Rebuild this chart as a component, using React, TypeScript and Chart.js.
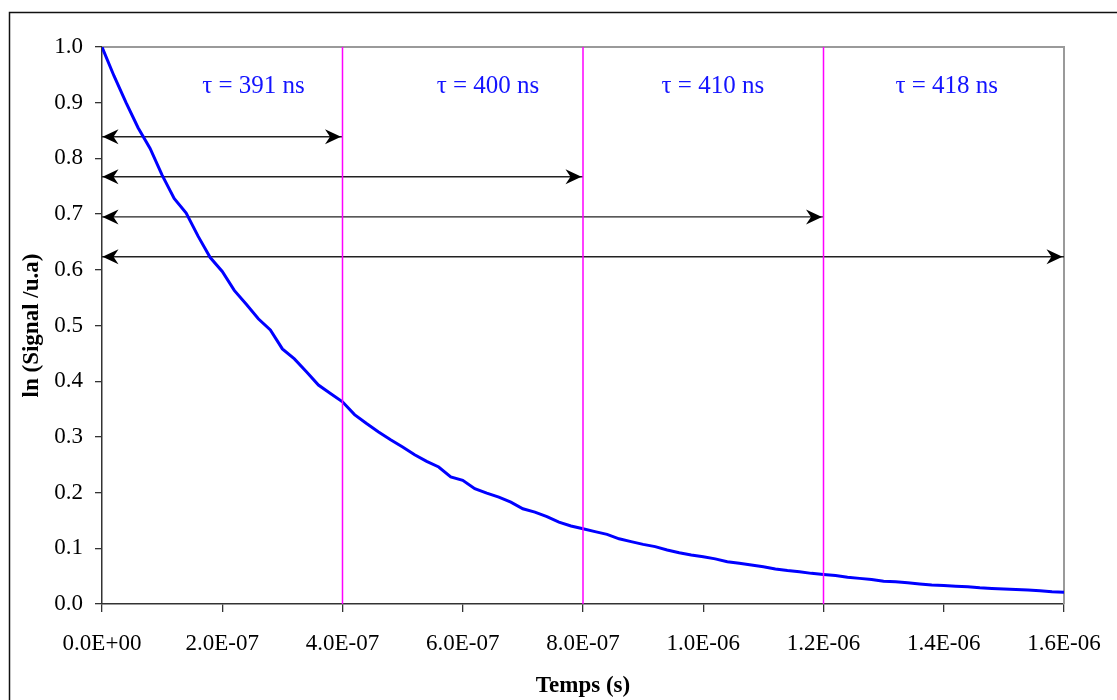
import React, { useEffect, useRef } from "react";
import { Chart, registerables } from "chart.js";

Chart.register(...registerables);

// ---- Data ----
const TIME_NS = [
  0, 20, 40, 60, 80, 100, 120, 140, 160, 180,
  200, 220, 240, 260, 280, 300, 320, 340, 360, 380,
  400, 420, 440, 460, 480, 500, 520, 540, 560, 580,
  600, 620, 640, 660, 680, 700, 720, 740, 760, 780,
  800, 820, 840, 860, 880, 900, 920, 940, 960, 980,
  1000, 1020, 1040, 1060, 1080, 1100, 1120, 1140, 1160, 1180,
  1200, 1220, 1240, 1260, 1280, 1300, 1320, 1340, 1360, 1380,
  1400, 1420, 1440, 1460, 1480, 1500, 1520, 1540, 1560, 1580,
  1600,
];

const SIGNAL = [
  1.0, 0.948, 0.9, 0.855, 0.818, 0.77, 0.728, 0.702, 0.66, 0.622,
  0.597, 0.563, 0.538, 0.512, 0.492, 0.458, 0.44, 0.417, 0.393, 0.378,
  0.363, 0.34, 0.324, 0.309, 0.295, 0.282, 0.268, 0.256, 0.246, 0.228,
  0.222, 0.207, 0.199, 0.192, 0.183, 0.171, 0.165, 0.157, 0.147, 0.14,
  0.135, 0.13, 0.125, 0.117, 0.112, 0.107, 0.103, 0.097, 0.092, 0.088,
  0.085, 0.081, 0.076, 0.073, 0.07, 0.067, 0.063, 0.06, 0.058, 0.055,
  0.053, 0.051, 0.048, 0.046, 0.044, 0.041, 0.04, 0.038, 0.036, 0.034,
  0.033, 0.032, 0.031, 0.029, 0.028, 0.027, 0.026, 0.025, 0.024, 0.022,
  0.021,
];

const X_TICK_VALUES = [0, 2e-7, 4e-7, 6e-7, 8e-7, 1e-6, 1.2e-6, 1.4e-6, 1.6e-6];
const X_TICK_LABELS = [
  "0.0E+00", "2.0E-07", "4.0E-07", "6.0E-07", "8.0E-07",
  "1.0E-06", "1.2E-06", "1.4E-06", "1.6E-06",
];
const Y_TICK_VALUES = [0, 0.1, 0.2, 0.3, 0.4, 0.5, 0.6, 0.7, 0.8, 0.9, 1.0];
const Y_TICK_LABELS = ["0.0", "0.1", "0.2", "0.3", "0.4", "0.5", "0.6", "0.7", "0.8", "0.9", "1.0"];

// fit windows: each arrow goes from 0 to the window end
const FIT_END_S = [4e-7, 8e-7, 1.2e-6, 1.6e-6];
const ARROW_LEVELS = [0.839, 0.767, 0.695, 0.6235];
const SEPARATOR_S = [4e-7, 8e-7, 1.2e-6];
const TAU_LABELS = ["τ = 391 ns", "τ = 400 ns", "τ = 410 ns", "τ = 418 ns"];
const TAU_LABEL_X_S = [2.52e-7, 6.42e-7, 1.016e-6, 1.405e-6];
const TAU_LABEL_Y = 0.929;

const X_TITLE = "Temps (s)";
const Y_TITLE = "ln (Signal /u.a)";

const SERIF = "'Liberation Serif', 'Times New Roman', Times, serif";

const decorPlugin = {
  id: "decor",
  beforeDraw(chart: any) {
    const { ctx, width, height } = chart;
    ctx.save();
    ctx.fillStyle = "#ffffff";
    ctx.fillRect(0, 0, width, height);
    ctx.strokeStyle = "#111111";
    ctx.lineWidth = 1.5;
    ctx.beginPath();
    ctx.moveTo(9.5, height + 5);
    ctx.lineTo(9.5, 12.5);
    ctx.lineTo(width + 5, 12.5);
    ctx.stroke();
    ctx.restore();
  },
  beforeDatasetsDraw(chart: any) {
    const { ctx, chartArea } = chart;
    ctx.save();
    ctx.strokeStyle = "#9a9a9a";
    ctx.lineWidth = 2;
    ctx.beginPath();
    ctx.moveTo(chartArea.left, chartArea.top);
    ctx.lineTo(chartArea.right, chartArea.top);
    ctx.lineTo(chartArea.right, chartArea.bottom);
    ctx.stroke();
    ctx.restore();
  },
  afterDatasetsDraw(chart: any) {
    const { ctx } = chart;
    const xs = chart.scales.x;
    const ys = chart.scales.y;
    ctx.save();
    ctx.fillStyle = "#000000";
    const head = (x: number, y: number, dir: number) => {
      ctx.beginPath();
      ctx.moveTo(x, y);
      ctx.lineTo(x - dir * 16, y - 7.5);
      ctx.lineTo(x - dir * 11, y);
      ctx.lineTo(x - dir * 16, y + 7.5);
      ctx.closePath();
      ctx.fill();
    };
    ARROW_LEVELS.forEach((lvl, i) => {
      const y = ys.getPixelForValue(lvl);
      head(xs.getPixelForValue(0) + 0.5, y, -1);
      head(xs.getPixelForValue(FIT_END_S[i]) - 1.5, y, 1);
    });
    ctx.fillStyle = "#1414ff";
    ctx.font = `25px ${SERIF}`;
    ctx.textAlign = "center";
    ctx.textBaseline = "middle";
    TAU_LABELS.forEach((t, i) => {
      ctx.fillText(t, xs.getPixelForValue(TAU_LABEL_X_S[i]), ys.getPixelForValue(TAU_LABEL_Y));
    });
    ctx.restore();
  },
};

export default function App() {
  const canvasRef = useRef<HTMLCanvasElement | null>(null);

  useEffect(() => {
    const canvas = canvasRef.current;
    if (!canvas) return;

    const curve = TIME_NS.map((t, i) => ({ x: t * 1e-9, y: SIGNAL[i] }));

    const separatorSets = SEPARATOR_S.map((s) => ({
      label: "sep",
      data: [
        { x: s, y: 0 },
        { x: s, y: 1 },
      ],
      borderColor: "#ff00ff",
      borderWidth: 1.5,
      pointRadius: 0,
      fill: false,
    }));

    const arrowSets = ARROW_LEVELS.map((lvl, i) => ({
      label: "arrow",
      data: [
        { x: 0, y: lvl },
        { x: FIT_END_S[i], y: lvl },
      ],
      borderColor: "#222222",
      borderWidth: 1.4,
      pointRadius: 0,
      fill: false,
    }));

    const chart = new Chart(canvas, {
      type: "line",
      data: {
        datasets: [
          ...separatorSets,
          {
            label: "signal",
            data: curve,
            borderColor: "#0000ff",
            borderWidth: 3,
            pointRadius: 0,
            tension: 0,
            fill: false,
          },
          ...arrowSets,
        ],
      },
      options: {
        animation: false,
        responsive: false,
        maintainAspectRatio: false,
        layout: { padding: { left: 0, top: 47, right: 53, bottom: 0 } },
        plugins: {
          legend: { display: false },
          tooltip: { enabled: false },
          title: { display: false },
        },
        scales: {
          x: {
            type: "linear",
            min: 0,
            max: 1.6e-6,
            afterBuildTicks: (scale: any) => {
              scale.ticks = X_TICK_VALUES.map((v) => ({ value: v }));
            },
            afterFit: (scale: any) => {
              scale.height = 96;
              scale.paddingLeft = 0;
              scale.paddingRight = 0;
            },
            ticks: {
              autoSkip: false,
              maxRotation: 0,
              minRotation: 0,
              padding: 18,
              color: "#000000",
              font: { family: SERIF, size: 23 },
              callback: (_v: any, i: number) => X_TICK_LABELS[i],
            },
            grid: {
              display: true,
              drawOnChartArea: false,
              drawTicks: true,
              tickLength: 8,
              color: "#333333",
              lineWidth: 1.3,
            },
            border: { display: true, color: "#333333", width: 1.5 },
            title: {
              display: true,
              text: X_TITLE,
              color: "#000000",
              font: { family: SERIF, size: 23, weight: "bold" },
              padding: { top: 0, bottom: 0 },
            },
          },
          y: {
            type: "linear",
            min: 0,
            max: 1,
            afterBuildTicks: (scale: any) => {
              scale.ticks = Y_TICK_VALUES.map((v) => ({ value: v }));
            },
            afterFit: (scale: any) => {
              scale.width = 102;
              scale.paddingTop = 0;
              scale.paddingBottom = 0;
            },
            ticks: {
              autoSkip: false,
              padding: 12,
              color: "#000000",
              font: { family: SERIF, size: 23 },
              callback: (_v: any, i: number) => Y_TICK_LABELS[i],
            },
            grid: {
              display: true,
              drawOnChartArea: false,
              drawTicks: true,
              tickLength: 7,
              color: "#333333",
              lineWidth: 1.3,
            },
            border: { display: true, color: "#333333", width: 1.5 },
            title: {
              display: true,
              text: Y_TITLE,
              color: "#000000",
              font: { family: SERIF, size: 23, weight: "bold" },
              padding: { top: 18, bottom: 0 },
            },
          },
        },
      },
      plugins: [decorPlugin],
    } as any);

    return () => chart.destroy();
  }, []);

  return (
    <div style={{ position: "fixed", left: 0, top: 0, width: 1117, height: 700, background: "#fff" }}>
      <canvas ref={canvasRef} width={1117} height={700} style={{ width: 1117, height: 700, display: "block" }} />
    </div>
  );
}
